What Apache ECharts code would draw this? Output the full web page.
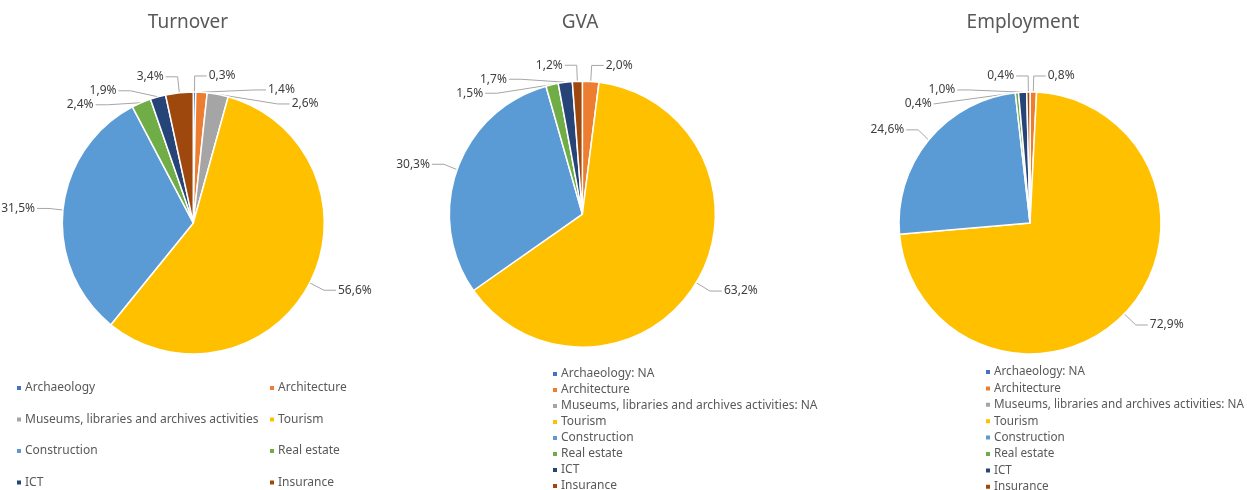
<!DOCTYPE html>
<html>
<head>
<meta charset="utf-8">
<script src="https://cdn.jsdelivr.net/npm/echarts@6/dist/echarts.min.js"></script>
<style>html,body{margin:0;padding:0;background:#fff}#c{width:1247px;height:490px}</style>
</head>
<body>
<div id="c"></div>
<script>
const categories = ['Archaeology','Architecture','Museums, libraries and archives activities','Tourism','Construction','Real estate','ICT','Insurance'];
const turnover = [0.3, 1.4, 2.6, 56.6, 31.5, 2.4, 1.9, 3.4];
const gva = [null, 2.0, null, 63.2, 30.3, 1.5, 1.7, 1.2];
const employment = [null, 0.8, null, 72.9, 24.6, 0.4, 1.0, 0.4];
const titles = ['Turnover', 'GVA', 'Employment'];
const colors = ['#4472C4','#ED7D31','#A5A5A5','#FFC000','#5B9BD5','#70AD47','#264478','#9E480E'];

const FONT = 'Noto Sans';
function toData(arr) {
  const out = [];
  arr.forEach((v, i) => { if (v !== null) out.push({ name: categories[i], value: v, itemStyle: { color: colors[i] } }); });
  return out;
}
const fmt = p => p.value.toFixed(1).replace('.', ',') + '%';
const pieCenters = [['15.5%', '45.5%'], ['46.7%', '43.7%'], ['82.6%', '45.5%']];
const radii = [131, 133, 131];
const series = [turnover, gva, employment].map((arr, k) => ({
  type: 'pie',
  center: pieCenters[k],
  radius: radii[k],
  startAngle: 90,
  clockwise: true,
  avoidLabelOverlap: true,
  data: toData(arr),
  itemStyle: { borderColor: '#fff', borderWidth: 1.5 },
  label: { show: true, position: 'outside', formatter: fmt, color: '#404040', fontSize: 12, fontFamily: FONT,
           distanceToLabelLine: 2, overflow: 'none', edgeDistance: 2 },
  labelLine: { show: true, length: 16, length2: 12, lineStyle: { color: '#A6A6A6', width: 1 } },
  emphasis: { disabled: true },
  animation: false
}));

const legendText = { color: '#595959', fontSize: 12, fontFamily: FONT };
const naFmt = name => (name === categories[0] || name === categories[2]) ? name + ': NA' : name;
const legends = [
  { left: 15, top: 382, orient: 'vertical', itemGap: 19.5, data: [categories[0], categories[2], categories[4], categories[6]] },
  { left: 268, top: 382, orient: 'vertical', itemGap: 19.5, data: [categories[1], categories[3], categories[5], categories[7]] },
  { left: 551, top: 368, orient: 'vertical', itemGap: 4, height: 200, data: categories.slice(), formatter: naFmt },
  { left: 984, top: 366, orient: 'vertical', itemGap: 4.4, height: 200, data: categories.slice(), formatter: naFmt,
    textStyle: Object.assign({}, legendText, { fontSize: 11.7, padding: [0, 0, 0, -2] }) }
].map(l => Object.assign({
  icon: 'rect', itemWidth: 6, itemHeight: 6, textStyle: Object.assign({}, legendText, { padding: [0, 0, 0, -2] }),
  padding: 0, selectedMode: false
}, l));

const titleArr = titles.map((t, k) => ({
  text: t,
  left: [183, 575, 1018][k],
  top: 8,
  textAlign: 'center',
  textStyle: { color: '#595959', fontSize: 19, fontWeight: 'normal', fontFamily: FONT }
}));

const chart = echarts.init(document.getElementById('c'), null, { renderer: 'canvas' });
chart.setOption({
  animation: false,
  color: colors,
  title: titleArr,
  legend: legends,
  series: series
});
</script>
</body>
</html>
